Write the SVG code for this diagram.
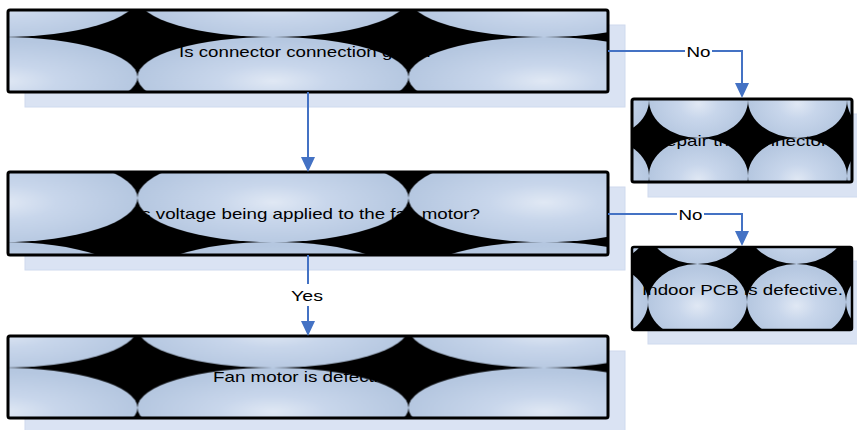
<svg xmlns="http://www.w3.org/2000/svg" width="857" height="430" viewBox="0 0 857 430">
<style>
.shadow{fill:#dae3f3;stroke:#cfdaee;stroke-width:1}
.bg{fill:#000}
.box{stroke:#000;stroke-width:3}
.t{font-family:"Liberation Sans",Arial,sans-serif;font-size:15px;fill:#000;text-anchor:middle}
.edge{fill:none;stroke:#4472c4;stroke-width:2}
.lblbg{fill:#fff}
</style>
<defs>
<radialGradient id="g" cx="50%" cy="55%" r="50%">
<stop offset="0" stop-color="#e0e8f4"/>
<stop offset="0.4" stop-color="#c8d6eb"/>
<stop offset="1" stop-color="#b5c7e0"/>
</radialGradient>
<pattern id="p1" patternUnits="userSpaceOnUse" x="-133.5" y="-43" width="271" height="80"><ellipse cx="135.5" cy="40" rx="135.5" ry="40" fill="url(#g)"/></pattern>
<pattern id="p3" patternUnits="userSpaceOnUse" x="-133.5" y="154" width="271" height="88"><ellipse cx="135.5" cy="44" rx="135.5" ry="44" fill="url(#g)"/></pattern>
<pattern id="p5" patternUnits="userSpaceOnUse" x="-133.5" y="287.7" width="271" height="80"><ellipse cx="135.5" cy="40" rx="135.5" ry="40" fill="url(#g)"/></pattern>
<pattern id="p2" patternUnits="userSpaceOnUse" x="649" y="62" width="99" height="76"><ellipse cx="49.5" cy="38" rx="49.5" ry="38" fill="url(#g)"/></pattern>
<pattern id="p4" patternUnits="userSpaceOnUse" x="648" y="188" width="99" height="76"><ellipse cx="49.5" cy="38" rx="49.5" ry="38" fill="url(#g)"/></pattern>
<marker id="arr" markerUnits="userSpaceOnUse" markerWidth="15" markerHeight="14" viewBox="0 0 15 14" refX="0" refY="7" orient="auto">
<path d="M0,0 L15,7 L0,14 z" fill="#4472c4"/>
</marker>
</defs>

<g id="node-connector">
<rect class="shadow" x="25" y="25" width="600" height="82"/>
<rect class="bg" x="8" y="10" width="600" height="82" rx="2"/>
<rect class="box" x="8" y="10" width="600" height="82" rx="2" fill="url(#p1)"/>
<text class="t" x="306.5" y="57" textLength="255" lengthAdjust="spacingAndGlyphs">Is connector connection good?</text>
</g>

<g id="node-repair">
<rect class="shadow" x="648" y="114" width="220" height="83"/>
<rect class="bg" x="632" y="99" width="220" height="83" rx="2"/>
<rect class="box" x="632" y="99" width="220" height="83" rx="2" fill="url(#p2)"/>
<text class="t" x="742" y="146" textLength="179" lengthAdjust="spacingAndGlyphs">Repair the connector.</text>
</g>

<g id="node-voltage">
<rect class="shadow" x="25" y="187" width="600" height="83"/>
<rect class="bg" x="8" y="172" width="600" height="83" rx="2"/>
<rect class="box" x="8" y="172" width="600" height="83" rx="2" fill="url(#p3)"/>
<text class="t" x="308" y="219" textLength="344" lengthAdjust="spacingAndGlyphs">Is voltage being applied to the fan motor?</text>
</g>

<g id="node-pcb">
<rect class="shadow" x="648" y="261" width="220" height="83"/>
<rect class="bg" x="632" y="247" width="220" height="83" rx="2"/>
<rect class="box" x="632" y="247" width="220" height="83" rx="2" fill="url(#p4)" style="stroke-width:2.5"/>
<text class="t" x="742.5" y="295" textLength="201" lengthAdjust="spacingAndGlyphs">Indoor PCB is defective.</text>
</g>

<g id="node-fan">
<rect class="shadow" x="25" y="351" width="600" height="83"/>
<rect class="bg" x="8" y="336" width="600" height="82" rx="2"/>
<rect class="box" x="8" y="336" width="600" height="82" rx="2" fill="url(#p5)"/>
<text class="t" x="308" y="382" textLength="190" lengthAdjust="spacingAndGlyphs">Fan motor is defective.</text>
</g>

<g id="connectors">
<path class="edge" d="M308,92 V157" marker-end="url(#arr)"/>
<path class="edge" d="M608,51 H742 V83" marker-end="url(#arr)"/>
<rect class="lblbg" x="685" y="43" width="27" height="16"/>
<text class="t" x="698.5" y="57" textLength="24" lengthAdjust="spacingAndGlyphs">No</text>
<path class="edge" d="M608,214 H742 V231" marker-end="url(#arr)"/>
<rect class="lblbg" x="677" y="206" width="27" height="16"/>
<text class="t" x="690.5" y="220" textLength="24" lengthAdjust="spacingAndGlyphs">No</text>
<path class="edge" d="M308,255 V321" marker-end="url(#arr)"/>
<rect class="lblbg" x="289" y="284" width="37" height="22"/>
<text class="t" x="307" y="301" textLength="32" lengthAdjust="spacingAndGlyphs">Yes</text>
</g>
</svg>
